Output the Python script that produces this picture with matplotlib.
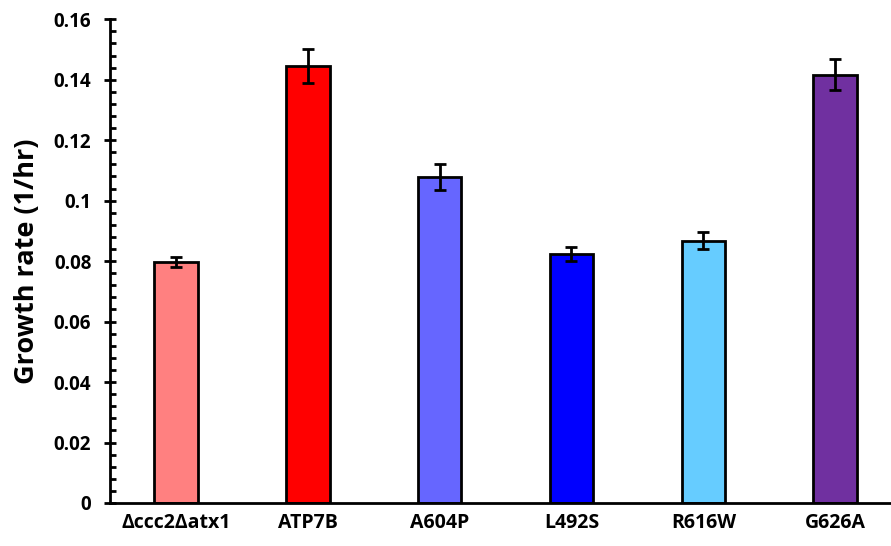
import matplotlib.pyplot as plt
from matplotlib.ticker import MultipleLocator

plt.rcParams['font.family'] = ['Open Sans', 'DejaVu Sans']

# strains and measured growth rates
strains = ['Δccc2Δatx1', 'ATP7B', 'A604P', 'L492S', 'R616W', 'G626A']
growth = [0.0798, 0.1445, 0.1078, 0.0823, 0.0868, 0.1417]
errors = [0.0017, 0.0055, 0.0043, 0.0022, 0.0028, 0.0050]
colors = ['#FF8080', '#FF0000', '#6666FF', '#0000FF', '#66CCFF', '#7030A0']

fig = plt.figure(figsize=(8.91, 5.46), dpi=100)
ax = fig.add_axes([0.1235, 0.0788, 0.876, 0.886])

ax.bar(range(len(strains)), growth, width=0.33, color=colors,
       edgecolor='black', linewidth=2,
       yerr=errors, error_kw=dict(ecolor='black', elinewidth=2, capsize=4.3, capthick=2))

ax.set_ylim(0, 0.16)
ax.set_xlim(-0.5, 5.42)
ax.yaxis.set_major_locator(MultipleLocator(0.02))
ax.yaxis.set_minor_locator(MultipleLocator(0.004))
ax.set_yticks([0, 0.02, 0.04, 0.06, 0.08, 0.1, 0.12, 0.14, 0.16])
ax.set_yticklabels(['0', '0.02', '0.04', '0.06', '0.08', '0.1', '0.12', '0.14', '0.16'])
ax.set_xticks(range(len(strains)))
ax.set_xticklabels(strains)

for lab in ax.get_yticklabels():
    lab.set_fontweight('bold')
    lab.set_fontsize(13.5)
for lab in ax.get_xticklabels():
    lab.set_fontweight('bold')
    lab.set_fontsize(14)

ax.tick_params(axis='x', length=0, pad=7)
ax.tick_params(axis='y', which='major', direction='inout', length=9, width=2, pad=9)
ax.tick_params(axis='y', which='minor', direction='in', length=4.5, width=2)

ax.spines['top'].set_visible(False)
ax.spines['right'].set_visible(False)
ax.spines['left'].set_linewidth(2)
ax.spines['bottom'].set_linewidth(2)

ax.set_ylabel('Growth rate (1/hr)', fontsize=19.5, fontweight='bold', labelpad=10)

fig.savefig('out.png', dpi=100)
